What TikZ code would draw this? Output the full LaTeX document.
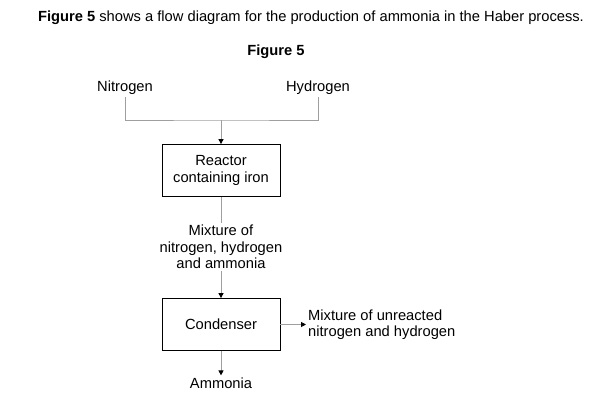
\documentclass[tikz,border=0pt]{standalone}
\usepackage{fontspec}
\setmainfont{Liberation Sans}
\usetikzlibrary{arrows.meta}

\begin{document}
\begin{tikzpicture}[x=1pt, y=-1pt,
  font=\fontsize{14.7}{16.3}\selectfont,
  box/.style={draw, line width=0.8pt, minimum width=118pt, minimum height=52pt, align=center},
  testo/.style={align=center, inner sep=2pt},
  linea/.style={draw=gray!75, line width=0.9pt},
  freccia/.style={linea, -{Triangle[length=5pt, width=5pt, color=black]}}]
  \useasboundingbox (0,0) rectangle (597,420);

  % titoli
  \node (titolo) at (311,18) {\textbf{Figure 5} shows a flow diagram for the production of ammonia in the Haber process.};
  \node[font=\fontsize{14.7}{16.3}\selectfont\bfseries] (figura) at (276,52) {Figure 5};

  % reagenti
  \node[testo] (azoto) at (125,88) {Nitrogen};
  \node[testo] (idrogeno) at (318,88) {Hydrogen};
  \coordinate (giunto) at (221,120);

  % reattore
  \node[box] (reattore) at (221,170.5) {Reactor\\containing iron};

  % miscela
  \node[testo] (miscela) at (221,247) {Mixture of\\nitrogen, hydrogen\\and ammonia};

  % condensatore
  \node[box] (condensatore) at (221,324.5) {Condenser};
  \node[testo, anchor=west, align=left] (riciclo) at (306,324.5) {Mixture of unreacted\\nitrogen and hydrogen};
  \node[testo] (ammoniaca) at (221,383) {Ammonia};

  % collegamenti
  \draw[linea] (azoto.south) |- (giunto) -| (idrogeno.south);
  \draw[freccia] (giunto) -- (reattore.north);
  \draw[linea] (reattore.south) -- (miscela.north);
  \draw[freccia] (miscela.south) -- (condensatore.north);
  \draw[freccia] (condensatore.east) -- (riciclo.west);
  \draw[freccia] (condensatore.south) -- (ammoniaca.north);
\end{tikzpicture}
\end{document}
